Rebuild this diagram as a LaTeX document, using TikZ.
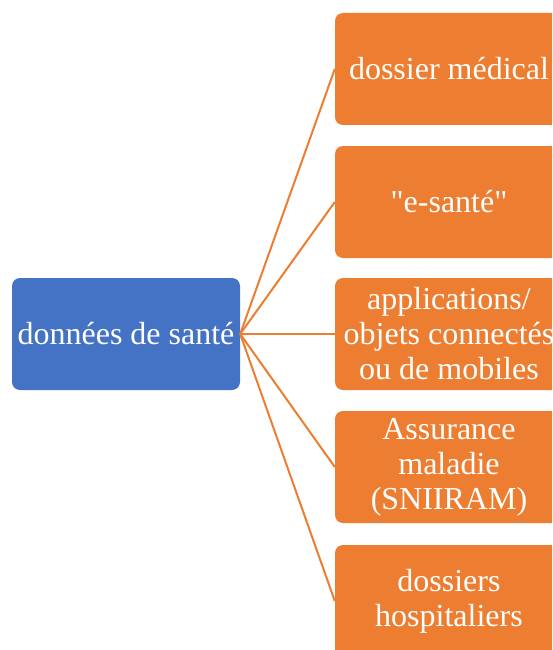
\documentclass[tikz,border=0pt]{standalone}
\usepackage{fontspec}
\setmainfont{Liberation Serif}[Ligatures=TeXOff]
\usetikzlibrary{positioning}

\definecolor{hubblue}{HTML}{4472C4}
\definecolor{leaforange}{HTML}{ED7D31}

\tikzset{
  hub/.style={fill=hubblue,text=white,rounded corners=8pt,
    minimum width=228pt,minimum height=112pt,inner sep=2pt,align=center,
    font=\fontsize{32}{35}\selectfont},
  leaf/.style={fill=leaforange,text=white,rounded corners=8pt,
    minimum width=228pt,minimum height=112pt,inner sep=2pt,align=center,
    font=\fontsize{32}{35}\selectfont},
  link/.style={draw=leaforange,line width=2pt}
}

\begin{document}
\begin{tikzpicture}[x=1pt,y=-1pt]

\useasboundingbox (0,0) rectangle (552,650);
\clip (0,0) rectangle (552,650);

\node[hub] (sante) at (126,334) {données de santé};

\node[leaf] (dossier) at (449,69) {dossier médical};
\node[leaf] (esante) at (449,202) {"e-santé"};
\node[leaf] (applis) at (449,334) {applications/\\objets connectés\\ou de mobiles};
\node[leaf] (assur) at (449,467) {Assurance\\maladie\\(SNIIRAM)};
\node[leaf] (hopital) at (449,601) {dossiers\\hospitaliers};

\draw[link] (sante.east) -- (dossier.west);
\draw[link] (sante.east) -- (esante.west);
\draw[link] (sante.east) -- (applis.west);
\draw[link] (sante.east) -- (assur.west);
\draw[link] (sante.east) -- (hopital.west);
\end{tikzpicture}
\end{document}
